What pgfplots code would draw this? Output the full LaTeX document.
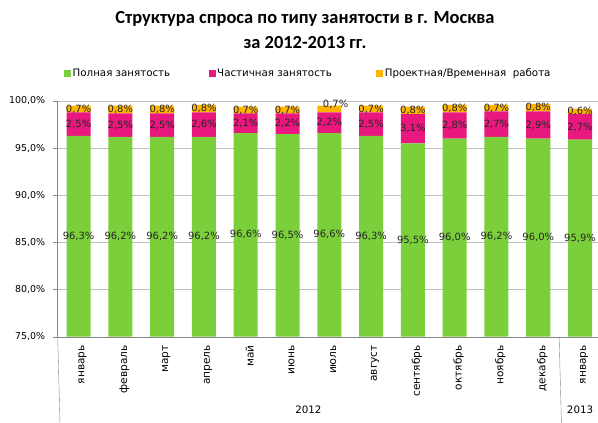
\documentclass[border=0pt]{standalone}
\usepackage{fontspec}
\setmainfont{DejaVu Sans}
\newfontfamily\titlefont{Carlito}
\usepackage{pgfplots}
\pgfplotsset{compat=1.18}
\usepackage{pgfplotstable}

\definecolor{cfull}{RGB}{122,207,58}
\definecolor{cpart}{RGB}{232,24,126}
\definecolor{cproj}{RGB}{255,180,0}
\definecolor{cgrid}{RGB}{192,192,192}
\definecolor{caxis}{RGB}{134,134,134}

% month, full, part-time, project
\pgfplotstableread{
x full part proj
0  96.3 2.5 0.7
1  96.2 2.5 0.8
2  96.2 2.5 0.8
3  96.2 2.6 0.8
4  96.6 2.1 0.7
5  96.5 2.2 0.7
6  96.6 2.2 0.7
7  96.3 2.5 0.7
8  95.5 3.1 0.8
9  96.0 2.8 0.8
10 96.2 2.7 0.7
11 96.0 2.9 0.8
12 95.9 2.7 0.6
}\demand

% label positions (middle of each segment) and values
\pgfplotstableread{
x y v
0  85.65 96.3
1  85.60 96.2
2  85.60 96.2
3  85.60 96.2
4  85.80 96.6
5  85.75 96.5
6  85.80 96.6
7  85.65 96.3
8  85.25 95.5
9  85.50 96.0
10 85.60 96.2
11 85.50 96.0
12 85.45 95.9
0  97.55 2.5
1  97.45 2.5
2  97.45 2.5
3  97.50 2.6
4  97.65 2.1
5  97.60 2.2
6  97.70 2.2
7  97.55 2.5
8  97.05 3.1
9  97.40 2.8
10 97.55 2.7
11 97.45 2.9
12 97.25 2.7
0  99.15 0.7
1  99.10 0.8
2  99.10 0.8
3  99.20 0.8
4  99.05 0.7
5  99.05 0.7
6.15 99.60 0.7
7  99.15 0.7
8  99.00 0.8
9  99.20 0.8
10 99.25 0.7
11 99.30 0.8
12 98.90 0.6
}\labels

\pgfplotsset{
  sq legend/.style={legend image code/.code={\fill[##1] (0bp,-3.5bp) rectangle (7bp,3.5bp);}},
  common/.style={scale only axis, width=540.3bp, height=235.7bp,
    at={(0,0)}, anchor=south west,
    xmin=-0.5, xmax=12.43, ymin=75, ymax=100},
}

\begin{document}
\begin{tikzpicture}
\useasboundingbox (-57.7bp,-86.3bp) rectangle (540.3bp,336.7bp);
\begin{axis}[
  common,
  ybar stacked, bar width=24bp,
  axis x line*=bottom, axis y line*=left,
  axis line style={draw=caxis,-},
  ytick={75,80,...,100},
  ymajorgrids, grid style={draw=cgrid},
  tick align=outside,
  y tick style={draw=caxis}, major tick length=5bp,
  xtick={0,...,12}, x tick style={draw=none},
  xticklabels={январь,февраль,март,апрель,май,июнь,июль,август,сентябрь,октябрь,ноябрь,декабрь,январь},
  xticklabel style={rotate=90, anchor=east, font=\fontsize{10.6}{12}\selectfont, yshift=-4bp},
  yticklabel={\pgfmathprintnumber[fixed,fixed zerofill,precision=1,use comma,assume math mode=true]{\tick}\%},
  yticklabel style={font=\fontsize{9.5}{11}\selectfont, xshift=-4bp},
  legend columns=3,
  legend style={at={(axis description cs:0,1)}, anchor=west, xshift=6.3bp, yshift=28bp,
    draw=none, fill=none, inner sep=0pt,
    font=\fontsize{10.3}{12}\selectfont,
    nodes={inner sep=1.5bp},
    /tikz/column 2/.style={column sep=37bp},
    /tikz/column 4/.style={column sep=43bp}},
  legend cell align=left,
  clip mode=individual,
]
\addplot[fill=cfull, draw=none, sq legend] table[x=x, y=full] {\demand};
\addplot[fill=cpart, draw=none, sq legend] table[x=x, y=part] {\demand};
\addplot[fill=cproj, draw=none, sq legend] table[x=x, y=proj] {\demand};
\legend{Полная занятость, Частичная занятость, Проектная/Временная\ \ работа}
\draw[caxis] (axis cs:-0.5,75) -- ++(0,-84bp);
\draw[caxis] (axis cs:11.5,75) -- ++(0,-84bp);
\node[font=\fontsize{10.3}{12}\selectfont] at ([yshift=-73bp]axis cs:5.5,75) {2012};
\node[font=\fontsize{10.3}{12}\selectfont] at ([yshift=-73bp]axis cs:12.0,75) {2013};
\end{axis}
\begin{axis}[
  common, hide axis, clip=false,
]
\addplot[draw=none, mark=none, nodes near coords={\pgfmathprintnumber[fixed,fixed zerofill,precision=1,use comma,assume math mode=true]{\pgfplotspointmeta}\%},
  point meta=explicit,
  nodes near coords style={anchor=center, inner sep=0pt, font=\fontsize{10}{12}\selectfont, text=black!85}]
  table[x=x, y=y, meta=v] {\labels};
\end{axis}
\node[align=center, font=\titlefont\bfseries\fontsize{18.5}{26}\selectfont] at (247.3bp,306.7bp)
  {Структура спроса по типу занятости в г. Москва\\за 2012-2013 гг.};
\end{tikzpicture}
\end{document}
